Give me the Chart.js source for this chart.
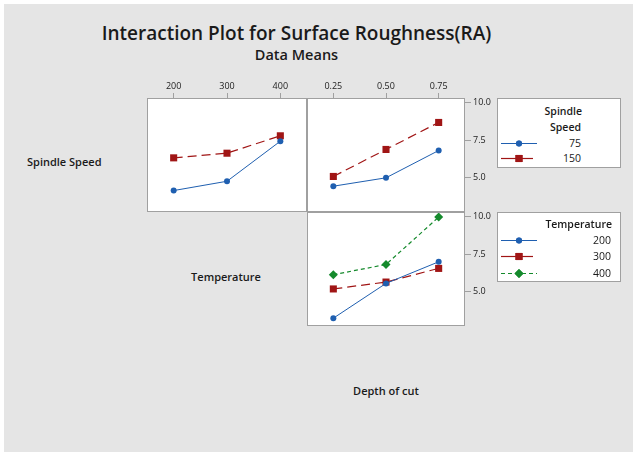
<!DOCTYPE html>
<html>
<head>
<meta charset="utf-8">
<script src="https://cdn.jsdelivr.net/npm/chart.js@4.4.1/dist/chart.umd.min.js"></script>
<style>
  body { margin: 0; width: 633px; height: 454px; overflow: hidden; background: #fff; font-family: "Open Sans", sans-serif; color: #1a1a1a; }
  #page { position: absolute; left: 4px; top: 4px; width: 629px; height: 448px; background: #e5e5e5; }
  .abs { position: absolute; white-space: nowrap; }
  .title { left: 0; width: 593px; text-align: center; }
  .factor { font-size: 11px; font-weight: 600; line-height: 14px; }
  .legend { position: absolute; background: #fff; border: 1px solid #a0a0a0; box-sizing: border-box; }
  .legend div { position: absolute; font-size: 10.5px; line-height: 14px; text-align: right; white-space: nowrap; }
  .legend canvas { position: absolute; }
</style>
</head>
<body>
<div id="page"></div>

<div class="abs title" style="top:20px;font-size:19px;line-height:26px;font-weight:600;">Interaction Plot for Surface Roughness(RA)</div>
<div class="abs title" style="top:46px;font-size:14.5px;line-height:18px;font-weight:600;">Data Means</div>

<div class="abs factor" style="left:27px;top:155px;">Spindle Speed</div>
<div class="abs factor" style="left:176px;width:100px;text-align:center;top:270px;">Temperature</div>
<div class="abs factor" style="left:336px;width:100px;text-align:center;top:384px;">Depth of cut</div>

<div class="abs" style="left:147px;top:80px;width:160px;height:132px;"><canvas id="tempChart"></canvas></div>
<div class="abs" style="left:307px;top:80px;width:193px;height:132px;"><canvas id="depthSpeedChart"></canvas></div>
<div class="abs" style="left:307px;top:212px;width:193px;height:114px;"><canvas id="depthTempChart"></canvas></div>

<div class="legend" style="left:497px;top:98px;width:124px;height:70px;">
  <div style="right:38px;top:5px;font-weight:600;">Spindle</div>
  <div style="right:39px;top:21px;font-weight:600;">Speed</div>
  <canvas id="lg75" width="40" height="12" style="left:2px;top:38px;"></canvas>
  <div style="right:39px;top:37px;">75</div>
  <canvas id="lg150" width="40" height="12" style="left:2px;top:53px;"></canvas>
  <div style="right:39px;top:52px;">150</div>
</div>

<div class="legend" style="left:497px;top:212px;width:124px;height:70px;">
  <div style="right:8px;top:4px;font-weight:600;">Temperature</div>
  <canvas id="lg200" width="40" height="12" style="left:2px;top:21px;"></canvas>
  <div style="right:9px;top:20px;">200</div>
  <canvas id="lg300" width="40" height="12" style="left:2px;top:37px;"></canvas>
  <div style="right:9px;top:36px;">300</div>
  <canvas id="lg400" width="40" height="12" style="left:2px;top:54px;"></canvas>
  <div style="right:9px;top:53px;">400</div>
</div>

<script>
// factor levels
const tempLevels = [200, 300, 400];
const depthLevels = [0.25, 0.50, 0.75];
const yTicks = [5.0, 7.5, 10.0];

// mean surface roughness, one array per line
const speed75ByTemp = [4.13, 4.75, 7.42];
const speed150ByTemp = [6.31, 6.62, 7.78];
const speed75ByDepth = [4.42, 4.98, 6.80];
const speed150ByDepth = [5.07, 6.87, 8.67];
const temp200ByDepth = [3.22, 5.54, 6.98];
const temp300ByDepth = [5.17, 5.63, 6.54];
const temp400ByDepth = [6.12, 6.80, 9.96];

const BLUE = '#1f5fb0';
const RED = '#a01515';
const GREEN = '#158a2c';
const FRAME = '#a0a0a0';

const styles = {
  blue: { borderColor: BLUE, backgroundColor: BLUE, pointStyle: 'circle', pointRadius: 3, borderWidth: 1, borderDash: [] },
  red: { borderColor: RED, backgroundColor: RED, pointStyle: 'rect', pointRadius: 5, borderWidth: 1.2, borderDash: [9, 5] },
  green: { borderColor: GREEN, backgroundColor: GREEN, pointStyle: 'rectRot', pointRadius: 4.5, borderWidth: 1.2, borderDash: [4, 3] },
};

function series(xs, ys, style) {
  return Object.assign({
    data: xs.map((x, i) => ({ x: x, y: ys[i] })),
    tension: 0,
    pointBorderWidth: 0,
    fill: false,
  }, styles[style]);
}

const panelFrame = {
  id: 'panelFrame',
  beforeDraw(chart) {
    const { ctx, chartArea: a } = chart;
    ctx.save();
    ctx.fillStyle = '#fff';
    ctx.fillRect(a.left, a.top, a.right - a.left, a.bottom - a.top);
    ctx.restore();
  },
  afterDraw(chart) {
    const { ctx, chartArea: a } = chart;
    ctx.save();
    ctx.strokeStyle = FRAME;
    ctx.lineWidth = 1;
    ctx.strokeRect(a.left + 0.5, a.top + 0.5, a.right - a.left - 1, a.bottom - a.top - 1);
    ctx.restore();
  }
};

const tickFont = { family: 'Open Sans', size: 9 };

function topAxis(min, max, ticks, fmt) {
  return {
    type: 'linear', position: 'top', min: min, max: max,
    afterBuildTicks: (s) => { s.ticks = ticks.map(v => ({ value: v })); },
    afterFit: (s) => { s.height = 18; s.paddingLeft = 0; s.paddingRight = 0; },
    grid: { display: true, drawOnChartArea: false, drawTicks: true, tickLength: 5, color: FRAME },
    border: { display: false },
    ticks: { font: tickFont, color: '#222', padding: 1, maxRotation: 0, callback: fmt },
  };
}

function hiddenX(min, max) {
  return { type: 'linear', display: false, min: min, max: max };
}

function rightAxis() {
  return {
    type: 'linear', position: 'right', min: 2.7, max: 10.3,
    afterBuildTicks: (s) => { s.ticks = yTicks.map(v => ({ value: v })); },
    afterFit: (s) => { s.width = 35; s.paddingTop = 0; s.paddingBottom = 0; },
    grid: { display: true, drawOnChartArea: false, drawTicks: true, tickLength: 6, color: FRAME },
    border: { display: false },
    ticks: { font: tickFont, color: '#222', padding: 2, callback: (v) => v.toFixed(1) },
  };
}

function hiddenY() {
  return { type: 'linear', display: false, min: 2.7, max: 10.3 };
}

const baseOptions = {
  responsive: true,
  maintainAspectRatio: false,
  animation: false,
  layout: { padding: 0, autoPadding: false },
  plugins: { legend: { display: false }, tooltip: { enabled: false } },
};

new Chart(document.getElementById('tempChart'), {
  type: 'line',
  data: {
    datasets: [
      series(tempLevels, speed75ByTemp, 'blue'),
      series(tempLevels, speed150ByTemp, 'red'),
    ],
  },
  options: Object.assign({}, baseOptions, {
    scales: { x: topAxis(150, 450, tempLevels, (v) => String(v)), y: hiddenY() },
  }),
  plugins: [panelFrame],
});

new Chart(document.getElementById('depthSpeedChart'), {
  type: 'line',
  data: {
    datasets: [
      series(depthLevels, speed75ByDepth, 'blue'),
      series(depthLevels, speed150ByDepth, 'red'),
    ],
  },
  options: Object.assign({}, baseOptions, {
    scales: { x: topAxis(0.125, 0.875, depthLevels, (v) => v.toFixed(2)), y: rightAxis() },
  }),
  plugins: [panelFrame],
});

new Chart(document.getElementById('depthTempChart'), {
  type: 'line',
  data: {
    datasets: [
      series(depthLevels, temp200ByDepth, 'blue'),
      series(depthLevels, temp300ByDepth, 'red'),
      series(depthLevels, temp400ByDepth, 'green'),
    ],
  },
  options: Object.assign({}, baseOptions, {
    scales: { x: hiddenX(0.125, 0.875), y: rightAxis() },
  }),
  plugins: [panelFrame],
});

// legend samples: line with marker in the middle
function legendSample(id, style) {
  const s = styles[style];
  const ctx = document.getElementById(id).getContext('2d');
  ctx.strokeStyle = s.borderColor;
  ctx.lineWidth = s.borderWidth;
  ctx.setLineDash(style === 'green' ? [4, 3] : []);
  ctx.beginPath();
  ctx.moveTo(1, 6.5);
  ctx.lineTo(style === 'red' ? 33 : 37, 6.5);
  ctx.stroke();
  ctx.setLineDash([]);
  ctx.fillStyle = s.backgroundColor;
  Chart.helpers.drawPoint(ctx, { pointStyle: s.pointStyle, radius: s.pointRadius, rotation: 0, borderWidth: 0 }, 19, 6.5);
  ctx.fill();
}
legendSample('lg75', 'blue');
legendSample('lg150', 'red');
legendSample('lg200', 'blue');
legendSample('lg300', 'red');
legendSample('lg400', 'green');
</script>
</body>
</html>
